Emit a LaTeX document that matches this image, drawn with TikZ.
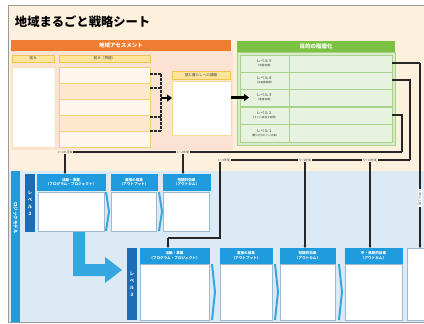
\documentclass[tikz,border=0pt]{standalone}
\usepackage{fontspec}
\newfontfamily\cjk{Noto Sans CJK JP}
\usetikzlibrary{arrows.meta}
\definecolor{cream}{HTML}{FDF0DC}
\definecolor{apanel}{HTML}{FBE3D3}
\definecolor{orangebar}{HTML}{EE7D31}
\definecolor{yhdr}{HTML}{FDE49B}
\definecolor{yline}{HTML}{F3C54E}
\definecolor{rowa}{HTML}{FEF6EC}
\definecolor{rowb}{HTML}{FDE8CF}
\definecolor{gbar}{HTML}{7CC142}
\definecolor{gbody}{HTML}{D9EBCB}
\definecolor{gcell}{HTML}{E7F3DE}
\definecolor{gline}{HTML}{A9D18E}
\definecolor{bluebg}{HTML}{DCEAF6}
\definecolor{bhdr}{HTML}{1F9BDE}
\definecolor{bdark}{HTML}{1C6DB5}
\definecolor{bchev}{HTML}{35A6E0}
\definecolor{bline}{HTML}{9DB8D2}
\tikzset{
  every node/.style={inner sep=0pt, outer sep=0pt, font=\cjk},
  boxnw/.style={anchor=north west, draw, line width=0.4pt},
  yhead/.style={boxnw, fill=yhdr, draw=yline, font=\cjk\fontsize{3.6}{4}\selectfont, text=black!75},
  whitebox/.style={boxnw, fill=white, draw=#1},
  bhead/.style={boxnw, fill=bhdr, draw=bhdr, text=white, align=center, font=\cjk\bfseries\fontsize{3.6}{4.4}\selectfont},
  bbody/.style={boxnw, fill=white, draw=bline},
  gcellstyle/.style={boxnw, fill=gcell, draw=gline, line width=0.5pt},
  lvtext/.style={align=center, font=\cjk\fontsize{3.8}{4.2}\selectfont, text=black!80},
  timelbl/.style={fill=cream, inner xsep=1pt, inner ysep=0.5pt, font=\cjk\fontsize{2.9}{3.3}\selectfont, text=black!70},
  conn/.style={line width=1.1pt, black!85},
  connarrow/.style={conn, -{Stealth[length=2.6pt,width=2.6pt]}},
  bigarrow/.style={line width=2.6pt, -{Triangle[length=5pt,width=7pt]}},
  chev/.style={fill=bchev, draw=none},
}
\begin{document}
\begin{tikzpicture}[x=1pt,y=-1pt]
\useasboundingbox (0,0) rectangle (424,324);
% backgrounds
\fill[white] (0,0) rectangle (424,324);
\fill[cream] (8,5) rectangle (430,171);
\fill[bluebg] (8,171) rectangle (430,322);
\fill[apanel] (11,51) rectangle (233,150);
\draw[gray!80, line width=1pt] (8,5) rectangle (430,322);
% title
\node[anchor=west, font=\cjk\bfseries\fontsize{12.3}{14}\selectfont] (title) at (15,22) {地域まるごと戦略シート};
% assessment
\node[boxnw, fill=orangebar, draw=none, minimum width=220pt, minimum height=11pt, text=white, font=\cjk\bfseries\fontsize{5.5}{6}\selectfont] (assess) at (11,40) {地域アセスメント};
\node[yhead, minimum width=42pt, minimum height=7pt] (strhd) at (12,55) {強み};
\node[yhead, minimum width=91pt, minimum height=7pt] (weakhd) at (59,55) {弱み（問題）};
\node[whitebox=yline!40!orange!30, minimum width=43pt, minimum height=80pt] (strength) at (12,67) {};
\foreach \i/\c in {0/rowa,1/rowb,2/rowa,3/rowb,4/rowa}{
  \node[boxnw, fill=\c, draw=yline!80, minimum width=91pt, minimum height=16pt] (weak\i) at (59,67+16*\i) {};
}
% dashed bracket
\coordinate (bt) at (161,74);
\coordinate (bb) at (161,131);
\coordinate (bm) at (161,98);
\draw[conn, dash pattern=on 2.5pt off 1.5pt, line width=1.2pt] (bt) -- (bb);
\foreach \y in {74,88,117,131}{
  \draw[conn, dash pattern=on 2.5pt off 1.5pt, line width=1.2pt] (weak0.east |- 0,\y) -- (bt |- 0,\y);
}
% middle box
\node[yhead, minimum width=58pt, minimum height=8pt] (needhd) at (172,71) {望む暮らしへの課題};
\node[whitebox=yline!60, minimum width=59pt, minimum height=54pt] (need) at (172,81) {};
\draw[bigarrow] (bm) -- (need.west |- bm);
% green section
\node[boxnw, fill=gbar, draw=none, minimum width=158pt, minimum height=11pt, text=white, font=\cjk\bfseries\fontsize{5.5}{6}\selectfont] (goalhd) at (237,41) {目的の階層化};
\node[boxnw, fill=gbody, draw=gline, minimum width=158pt, minimum height=93pt] (goalbody) at (237,52) {};
\foreach \n/\y/\h/\t/\s in {5/55/17/レベル５/（究極目標）,4/72/17/レベル４/（中長期目標）,3/89/17/レベル３/（直接目標）,2/107/17/レベル２/（すぐに目指す目標）,1/124/18/レベル１/（既に行われている事）}{
  \node[gcellstyle, minimum width=49pt, minimum height=\h pt] (lvl\n) at (240,\y) {};
  \node[gcellstyle, minimum width=103pt, minimum height=\h pt] (lvr\n) at (289,\y) {};
  \node[lvtext] at (lvl\n.center) {\t\\[-0.2pt]{\fontsize{2.6}{3}\selectfont\s}};
}
\draw[bigarrow] (need.east |- lvl3.west) -- ++(18,0);
% right connectors
\coordinate (c5) at (420,63);
\coordinate (c4) at (410,80);
\coordinate (c2) at (402,115);
\coordinate (c4b) at (410,160);
\coordinate (c2b) at (402,152);
\draw[conn] (lvr5.east |- c5) -- (c5);
\draw[conn] (lvr4.east |- c4) -- (c4) -- (c4b);
\draw[conn] (lvr2.east |- c2) -- (c2) -- (c2b);
% time labels
\node[timelbl] (ta1) at (65,152) {1〜3カ月後};
\node[timelbl] (ta2) at (183,152) {1〜2年後};
\node[timelbl] (tb1) at (224,160) {1〜3年後};
\node[timelbl] (tb2) at (305,160) {3〜5年後};
\node[timelbl] (tb3) at (370,160) {5〜10年後};
\node[timelbl, rotate=-90, fill=white, inner xsep=2pt, inner ysep=1pt] (tc) at (420,198) {10年以上後};
\draw[conn] (c2b) -- (ta2.east);
\draw[conn] (ta2.west) -- (ta1.east);
\draw[conn] (c4b) -- (tb3.east);
\draw[conn] (tb3.west) -- (tb2.east);
\draw[conn] (tb2.west) -- (tb1.east);
\draw[conn] (c5) -- (tc.west);
% blue section
\node[boxnw, fill=bhdr, draw=none, minimum width=9pt, minimum height=151pt] (lmbar) at (11,171) {};
\node[rotate=-90, text=white, font=\cjk\bfseries\fontsize{4.5}{5}\selectfont] (lmtext) at (15.5,218) {ロジックモデル};
\node[boxnw, fill=bdark, draw=none, minimum width=10pt, minimum height=58pt, text=white, align=center, font=\cjk\bfseries\fontsize{4.3}{7}\selectfont] (lv2bar) at (25,174) {レ\\ベ\\ル\\２};
\node[boxnw, fill=bdark, draw=none, minimum width=10pt, minimum height=72pt, text=white, align=center, font=\cjk\bfseries\fontsize{4.3}{7}\selectfont] (lv3bar) at (127,248) {レ\\ベ\\ル\\３};
% level 2 boxes
\node[bhead, minimum width=68pt, minimum height=16pt] (act2h) at (37,174) {活動・事業\\（プログラム・プロジェクト）};
\node[bbody, minimum width=66pt, minimum height=39pt] (act2) at (38,192) {};
\node[bhead, minimum width=46pt, minimum height=16pt] (out2h) at (111,174) {直接の成果\\（アウトプット）};
\node[bbody, minimum width=45pt, minimum height=39pt] (out2) at (111.5,192) {};
\node[bhead, minimum width=47pt, minimum height=16pt] (sh2h) at (163,174) {短期的効果\\（アウトカム）};
\node[bbody, minimum width=46pt, minimum height=39pt] (sh2) at (163.5,192) {};
\foreach \x in {105,158}{
  \fill[chev] (\x,192) -- (\x+2,192) -- (\x+5,211.5) -- (\x+2,231) -- (\x,231) -- (\x+3,211.5) -- cycle;
}
% L arrow
\fill[bchev] (73,232) -- (85,232) -- (85,264) -- (105,264) -- (105,257) -- (122,270) -- (105,283) -- (105,276) -- (73,276) -- cycle;
% level 3 boxes
\node[bhead, minimum width=69pt, minimum height=15pt] (act3h) at (140,248) {活動・事業\\（プログラム・プロジェクト）};
\node[bbody, minimum width=69pt, minimum height=56pt] (act3) at (140,264) {};
\node[bhead, minimum width=52pt, minimum height=15pt] (out3h) at (220,248) {直接の成果\\（アウトプット）};
\node[bbody, minimum width=52pt, minimum height=56pt] (out3) at (220,264) {};
\node[bhead, minimum width=55pt, minimum height=15pt] (sh3h) at (280,248) {短期的効果\\（アウトカム）};
\node[bbody, minimum width=55pt, minimum height=56pt] (sh3) at (280,264) {};
\node[bhead, minimum width=57pt, minimum height=15pt] (mid3h) at (345,248) {中・長期的効果\\（アウトカム）};
\node[bbody, minimum width=57pt, minimum height=56pt] (mid3) at (345,264) {};
\node[bbody, minimum width=24pt, minimum height=72pt] (last3) at (407,248) {};
\foreach \x in {211,274,338}{
  \fill[chev] (\x,264) -- (\x+2,264) -- (\x+5,292) -- (\x+2,320) -- (\x,320) -- (\x+3,292) -- cycle;
}
% time arrows
\draw[connarrow] (ta1.south) -- (act2h.north -| ta1.south);
\draw[connarrow] (ta2.south) -- (sh2h.north -| ta2.south);
\coordinate (bend1) at (220,238);
\coordinate (bend2) at (168,238);
\draw[conn] (tb1.south -| bend1) -- (bend1) -- (bend2);
\draw[connarrow] (bend2) -- (act3h.north -| bend2);
\draw[connarrow] (tb2.south) -- (sh3h.north -| tb2.south);
\draw[connarrow] (tb3.south) -- (mid3h.north -| tb3.south);
\draw[connarrow] (tc.east) -- (last3.north -| tc.east);
\end{tikzpicture}
\end{document}
